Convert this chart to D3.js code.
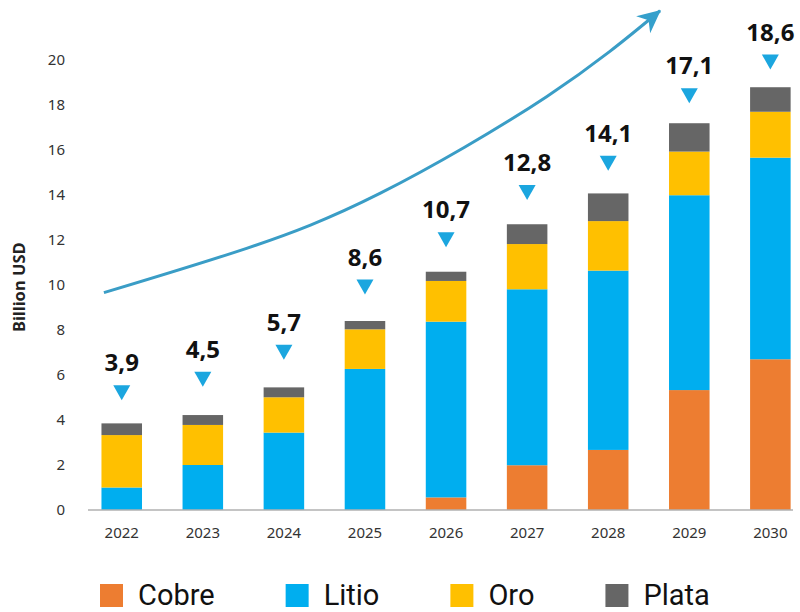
<!DOCTYPE html>
<html>
<head>
<meta charset="utf-8">
<script src="https://cdn.jsdelivr.net/npm/d3@7"></script>
<style>
    body { margin: 0; background: #fff; }
    svg { display: block; }
</style>
</head>
<body>
<div class="graph"></div>
<script>

const years = ["2022", "2023", "2024", "2025", "2026", "2027", "2028", "2029", "2030"];
const cobre = [0, 0, 0, 0, 0.56, 1.99, 2.67, 5.33, 6.70];
const litio = [1.0, 2.0, 3.44, 6.27, 7.81, 7.82, 7.97, 8.66, 8.96];
const oro = [2.33, 1.78, 1.57, 1.76, 1.81, 2.01, 2.20, 1.94, 2.04];
const plata = [0.52, 0.44, 0.44, 0.37, 0.41, 0.88, 1.23, 1.26, 1.09];
// Totals printed above each bar
const totals = [3.9, 4.5, 5.7, 8.6, 10.7, 12.8, 14.1, 17.1, 18.6];
const totalLabels = ["3,9", "4,5", "5,7", "8,6", "10,7", "12,8", "14,1", "17,1", "18,6"];
const yTicks = [0, 2, 4, 6, 8, 10, 12, 14, 16, 18, 20];
// Growth arrow, as [year, value] points
const trend = [[2021.78, 9.66], [2023.54, 11.63], [2025.19, 14.08], [2027.24, 18.37], [2028.64, 22.19]];

const series = [
    { key: "Cobre", values: cobre, color: "#ed7d31" },
    { key: "Litio", values: litio, color: "#00aeef" },
    { key: "Oro", values: oro, color: "#ffc000" },
    { key: "Plata", values: plata, color: "#666666" }
];

const plotVars = ({
    width: 800,
    height: 612,
    baseY: 510,
    topY: 60
});

const svg = d3.select(".graph").append("svg")
    .attr("width", plotVars.width)
    .attr("height", plotVars.height);

const xScale = d3.scaleBand().domain(years).range([81.2, 810.9]).paddingInner(0.5).paddingOuter(0.25);
const yScale = d3.scaleLinear().domain([0, 20]).range([plotVars.baseY, plotVars.topY]);
const yearScale = d3.scaleLinear().domain([2022, 2030])
    .range([xScale("2022") + xScale.bandwidth() / 2, xScale("2030") + xScale.bandwidth() / 2]);
const color = d3.scaleOrdinal().domain(series.map(s => s.key)).range(series.map(s => s.color));

// Build the table d3.stack wants
const table = years.map((y, i) => {
    const row = { year: y };
    series.forEach(s => row[s.key] = s.values[i]);
    return row;
});
const stacked = d3.stack().keys(series.map(s => s.key))(table);

// Axes
const yAxis = svg.append("g")
    .attr("transform", "translate(68,0)")
    .call(d3.axisLeft(yScale).tickValues(yTicks).tickSize(0).tickPadding(3));
yAxis.select(".domain").remove();
yAxis.selectAll("text").attr("font-family", "Noto Sans").attr("font-size", 15).attr("fill", "#333");

const xAxis = svg.append("g")
    .attr("transform", `translate(0,${plotVars.baseY})`)
    .call(d3.axisBottom(xScale).tickSize(0).tickPadding(17));
xAxis.select(".domain").remove();
xAxis.selectAll("text").attr("font-family", "Noto Sans").attr("font-size", 15).attr("fill", "#333");

svg.append("text")
    .attr("transform", `translate(25,${yScale(9.9)}) rotate(-90)`)
    .attr("text-anchor", "middle")
    .attr("font-family", "Noto Sans")
    .attr("font-weight", "bold")
    .attr("font-size", 16.5)
    .attr("fill", "#222")
    .text("Billion USD");

// Bars
svg.append("g").selectAll("g")
    .data(stacked)
    .join("g")
    .attr("fill", d => color(d.key))
    .selectAll("rect")
    .data(d => d)
    .join("rect")
    .attr("x", d => xScale(d.data.year))
    .attr("width", xScale.bandwidth())
    .attr("y", d => yScale(d[1]))
    .attr("height", d => yScale(d[0]) - yScale(d[1]));

// Baseline
svg.append("line")
    .attr("x1", 88).attr("x2", 793)
    .attr("y1", yScale(0)).attr("y2", yScale(0))
    .attr("stroke", "#b0b0b0")
    .attr("stroke-width", 1.5);

// Total markers: triangle and value
const marks = svg.append("g").selectAll("g")
    .data(years)
    .join("g")
    .attr("transform", (d, i) => `translate(${xScale(d) + xScale.bandwidth() / 2},${yScale(totals[i]) - 22})`);

marks.append("path")
    .attr("d", "M-8.5,-15L8.5,-15L0,0Z")
    .attr("fill", "#1ba6df");

marks.append("text")
    .attr("y", -29)
    .attr("text-anchor", "middle")
    .attr("font-family", "Noto Sans")
    .attr("font-weight", "bold")
    .attr("font-size", 24)
    .attr("fill", "#111")
    .text((d, i) => totalLabels[i]);

// Growth arrow
svg.append("defs").append("marker")
    .attr("id", "head")
    .attr("markerUnits", "userSpaceOnUse")
    .attr("viewBox", "-24 -12 26 24")
    .attr("markerWidth", 26)
    .attr("markerHeight", 24)
    .attr("refX", 0)
    .attr("refY", 0)
    .attr("orient", "auto")
    .append("path")
    .attr("d", "M1,0L-22,-11L-15,0L-22,11Z")
    .attr("fill", "#35a0cc");

const trendLine = d3.line()
    .x(d => yearScale(d[0]))
    .y(d => yScale(d[1]))
    .curve(d3.curveNatural);

svg.append("path")
    .datum(trend)
    .attr("d", trendLine)
    .attr("fill", "none")
    .attr("stroke", "#3a9dc6")
    .attr("stroke-width", 3)
    .attr("marker-end", "url(#head)");

// Legend
const legend = svg.append("g");
let lx = 100;
series.forEach(s => {
    legend.append("rect")
        .attr("x", lx).attr("y", 584)
        .attr("width", 23).attr("height", 23)
        .attr("fill", s.color);
    const t = legend.append("text")
        .attr("x", lx + 38).attr("y", 605)
        .attr("font-family", "Roboto")
        .attr("font-size", 29)
        .attr("fill", "#111")
        .text(s.key);
    lx += 38 + t.node().getComputedTextLength() + 71;
});

</script>
</body>
</html>
